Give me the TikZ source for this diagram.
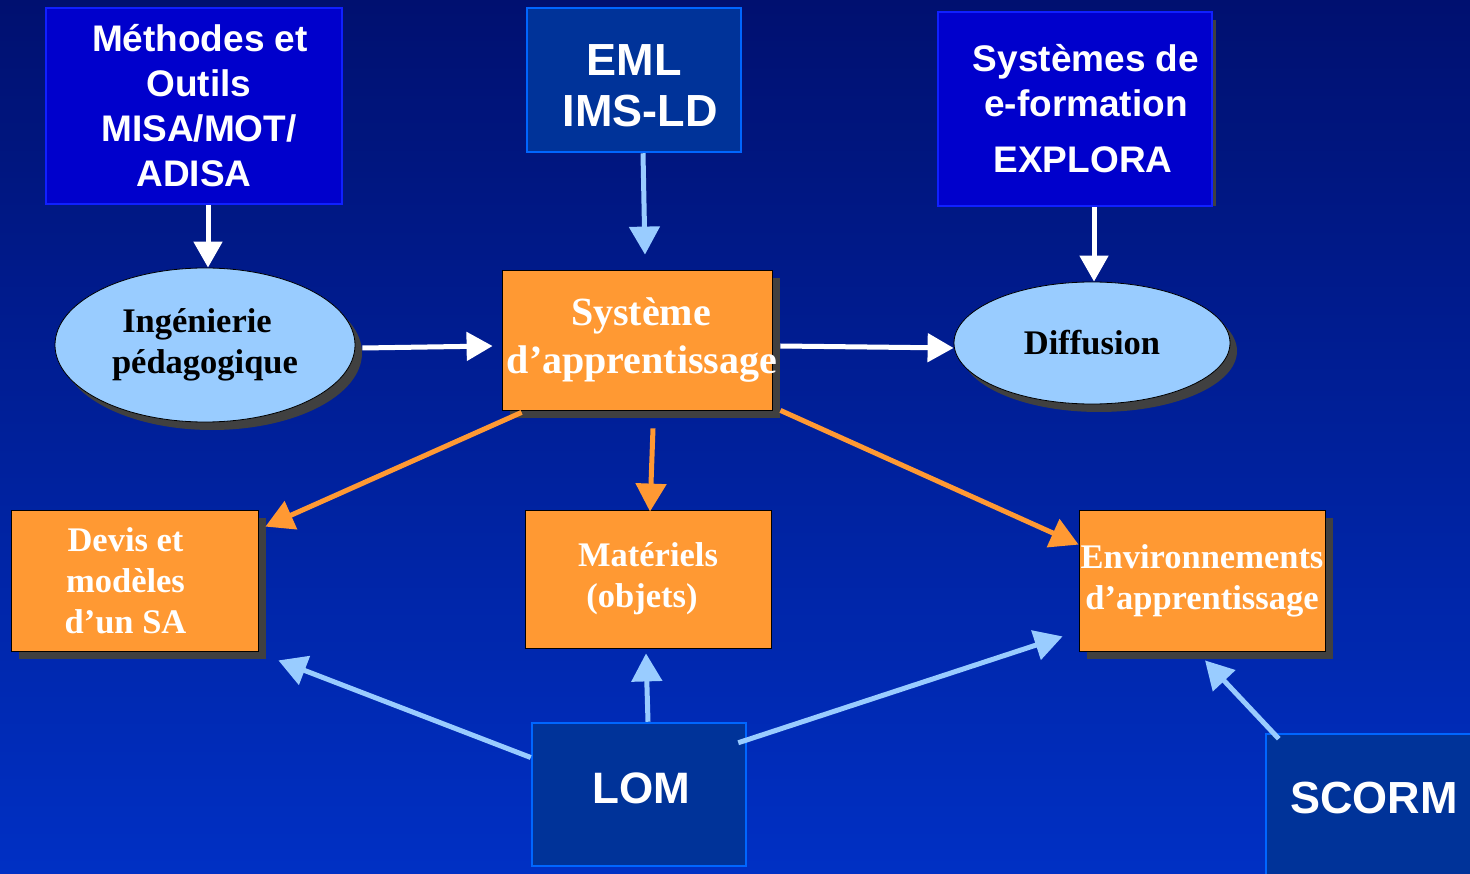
\documentclass[tikz,border=0pt]{standalone}
\usepackage{fontspec}
\setmainfont{Liberation Serif}
\setsansfont{Liberation Sans}
\usetikzlibrary{arrows.meta,shapes.geometric,shadows}
\definecolor{bgtop}{RGB}{0,16,112}
\definecolor{bgbot}{RGB}{0,48,196}
\definecolor{orangebox}{RGB}{255,153,51}
\definecolor{lightblue}{RGB}{153,204,255}
\definecolor{shadowgray}{RGB}{64,64,64}
\definecolor{darkbox}{RGB}{0,51,153}
\definecolor{darkboxline}{RGB}{0,102,255}
\definecolor{bluebox}{RGB}{0,0,204}
\definecolor{blueboxline}{RGB}{16,32,255}
\newcommand{\shr}[1]{\hspace*{#1}}
\begin{document}
\begin{tikzpicture}[x=1pt,y=-1pt,
  sansbig/.style={font=\fontsize{37}{45}\selectfont\sffamily\bfseries},
  bluerect/.style={draw=blueboxline, line width=2pt, fill=bluebox, text=white, sansbig, align=center, inner sep=0pt},
  darkrect/.style={draw=darkboxline, line width=2.5pt, fill=darkbox, text=white, font=\fontsize{45}{51}\selectfont\sffamily\bfseries, align=center, inner sep=0pt},
  orangerect/.style={draw=black, line width=0.8pt, fill=orangebox, text=white, font=\fontsize{34.5}{41}\selectfont\rmfamily\bfseries, align=center, inner sep=0pt},
  orangetext/.style={text=white, font=\fontsize{34.5}{41}\selectfont\rmfamily\bfseries, align=center, inner sep=0pt},
  oshadow/.style={drop shadow={shadow xshift=8pt, shadow yshift=-8pt, opacity=1, fill=shadowgray}},
  bubble/.style={ellipse, draw=black, line width=0.8pt, fill=lightblue, text=black, font=\fontsize{34.5}{41}\selectfont\rmfamily\bfseries, align=center, inner sep=0pt,
    drop shadow={shadow xshift=7pt, shadow yshift=-8pt, opacity=1, fill=shadowgray}},
  warrow/.style={draw=white, line width=5pt, -{Triangle[length=26pt,width=28pt]}},
  barrow/.style={draw=lightblue, line width=5pt, -{Triangle[length=28pt,width=30pt]}},
  oarrow/.style={draw=orangebox, line width=5pt, -{Triangle[length=28pt,width=30pt]}},
]
\useasboundingbox (0,0) rectangle (1470,874);
\shade[top color=bgtop, bottom color=bgbot] (0,0) rectangle (1470,874);

% top boxes
\node[bluerect, minimum width=296, minimum height=196] (meth) at (194,106)
  {\shr{12pt}M\'ethodes et\\\shr{10pt}Outils\\\shr{10pt}MISA/MOT/\\ADISA};
\node[darkrect, minimum width=214, minimum height=144] (eml) at (634,80) {};
\node[text=white, font=\fontsize{45}{51}\selectfont\sffamily\bfseries, align=center, inner sep=0pt] (emltxt) at (640,86)
  {EML\shr{12pt}\\IMS-LD};
\fill[shadowgray] (1212,20) rectangle (1216,206);
\node[bluerect, minimum width=274, minimum height=194] (explo) at (1075,109)
  {\shr{22pt}Syst\`emes de\\\shr{22pt}e-formation\\[11pt]\shr{16pt}EXPLORA};

% middle row
\node[bubble, minimum width=300, minimum height=154] (ing) at (205,345)
  {Ing\'enierie\shr{16pt}\\p\'edagogique};
\node[orangerect, oshadow, minimum width=270, minimum height=140,
  font=\fontsize{40}{48}\selectfont\rmfamily\bfseries] (sys) at (637,340)
  {\shr{8pt}Syst\`eme\\\makebox[250pt]{\hspace*{10pt}d'apprentissage}};
\node[bubble, minimum width=276, minimum height=122] (diff) at (1092,343)
  {Diffusion};

% lower row
\node[orangerect, oshadow, minimum width=247, minimum height=141] (devis) at (134.5,580.5) {};
\node[orangetext] (devistxt) at (125.5,581) {Devis et\\mod\`eles\\d'un SA};
\node[orangerect, minimum width=246, minimum height=138] (mat) at (648,579)
  {Mat\'eriels\\(objets)\shr{12pt}};
\node[orangerect, oshadow, minimum width=246, minimum height=141] (env) at (1202,580.5)
  {Environnements\\d'apprentissage};

% bottom boxes
\node[darkrect, minimum width=214, minimum height=143] (lom) at (639,794.5) {};
\node[text=white, font=\fontsize{44}{51}\selectfont\sffamily\bfseries] (lomtxt) at (641,788) {LOM};
\node[darkrect, minimum width=230, minimum height=170] (scorm) at (1381,819) {};
\node[text=white, font=\fontsize{45}{51}\selectfont\sffamily\bfseries] (scormtxt) at (1374,798) {SCORM};

% white arrows
\draw[warrow] ([xshift=14pt]meth.south) -- ([xshift=3pt]ing.north);
\draw[warrow] ([xshift=19pt]explo.south) -- ([xshift=2pt]diff.north);
\draw[warrow] ([xshift=7pt,yshift=-3pt]ing.east) -- ([xshift=-9pt,yshift=-6pt]sys.west);
\draw[warrow] ([xshift=8pt,yshift=-6pt]sys.east) -- ([yshift=-5pt]diff.west);

% light blue arrows
\draw[barrow] ([xshift=9pt]eml.south) -- ([xshift=8pt,yshift=15pt]sys.north);
\draw[barrow] ([yshift=37pt]lom.west) -- ([xshift=20pt,yshift=-9pt]devis.south east);
\draw[barrow] ([xshift=9pt]lom.north) -- ([xshift=-2pt,yshift=-5pt]mat.south);
\draw[barrow] ([xshift=-9pt,yshift=-21pt]lom.north east) -- ([xshift=-16pt,yshift=15pt]env.south west);
\draw[barrow] ([xshift=14pt,yshift=-6pt]scorm.north west) -- ([xshift=3pt,yshift=-9pt]env.south);

% orange arrows
\draw[oarrow] ([xshift=20pt,yshift=-2pt]sys.south west) -- ([xshift=7pt,yshift=-17pt]devis.north east);
\draw[oarrow] ([xshift=16pt,yshift=-18pt]sys.south) -- ([xshift=2pt,yshift=-2pt]mat.north);
\draw[oarrow] ([xshift=8pt]sys.south east) -- ([yshift=-35pt]env.north west);
\end{tikzpicture}
\end{document}
